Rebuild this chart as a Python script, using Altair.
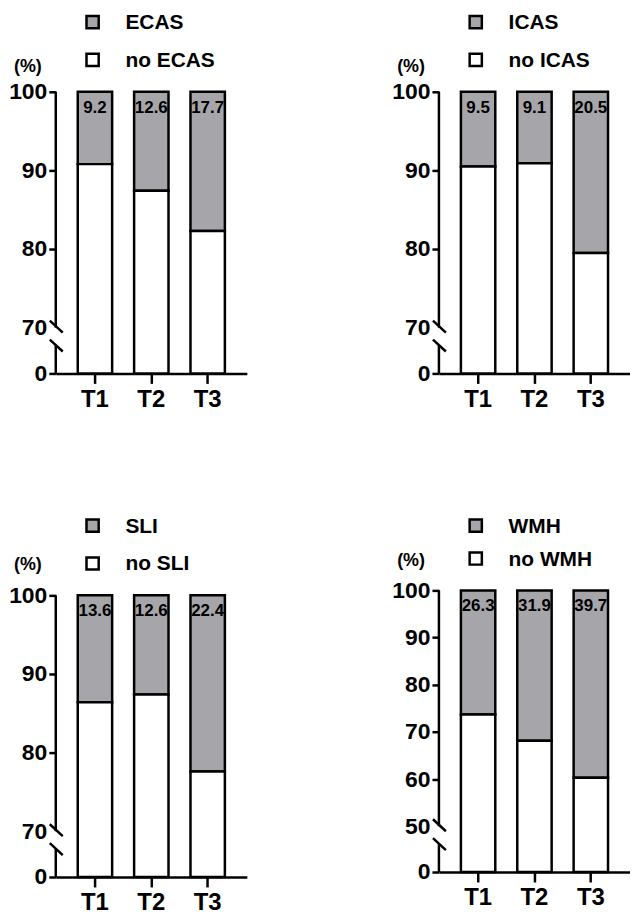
import altair as alt
import pandas as pd

# ---- data ----
periods = ["T1", "T2", "T3"]
names = ["ECAS", "ICAS", "SLI", "WMH"]
ecas = [9.2, 12.6, 17.7]
icas = [9.5, 9.1, 20.5]
sli = [13.6, 12.6, 22.4]
wmh = [26.3, 31.9, 39.7]
series = [ecas, icas, sli, wmh]
breaks = [70, 70, 70, 50]
upper_ticks = [[80, 90, 100], [80, 90, 100], [80, 90, 100], [60, 70, 80, 90, 100]]

# ---- style ----
FONT = "Liberation Sans"
GREY = "#a6a6aa"
W, H = 192, 283
LOW = 46
SW = 2.5
GAP = 18


def panel(name, pct, brk, ticks, leg_y, pct_y, shift):
    df = pd.DataFrame({
        "period": periods * 2,
        "group": [name] * 3 + ["no " + name] * 3,
        "value": list(pct) + [round(100 - p, 1) for p in pct],
        "order": [2] * 3 + [1] * 3,
    })
    h = H - shift
    yscale = alt.Scale(domain=[0, brk, 100], range=[h, h - LOW, -shift], nice=False, zero=False)
    xscale = alt.Scale(domain=periods, paddingInner=0.39, paddingOuter=0.39)
    one = pd.DataFrame({"k": [0]})

    yaxis = alt.Axis(
        values=[0, brk] + ticks, title=None, domain=False, grid=False,
        tickSize=7, tickWidth=SW, tickColor="black",
        tickOpacity={"condition": {"test": f"datum.value == {brk}", "value": 0}, "value": 1},
        labelFont=FONT, labelFontSize=23, labelFontWeight="bold", labelColor="black",
        labelPadding=2, labelOverlap=False, labelFlush=False,
    )
    xaxis = alt.Axis(
        title=None, labelAngle=0, domainColor="black", domainWidth=SW,
        tickColor="black", tickWidth=SW, tickSize=10,
        labelFont=FONT, labelFontSize=24, labelFontWeight="bold", labelColor="black",
        labelPadding=4,
    )

    bars = alt.Chart(df).mark_bar(stroke="black", strokeWidth=SW).encode(
        x=alt.X("period:N", scale=xscale, axis=xaxis),
        y=alt.Y("value:Q", stack="zero", scale=yscale, axis=yaxis),
        color=alt.Color("group:N",
                        scale=alt.Scale(domain=[name, "no " + name], range=[GREY, "white"]),
                        legend=None),
        order=alt.Order("order:Q"),
    )

    labels = alt.Chart(pd.DataFrame({"period": periods, "pct": pct})).mark_text(
        font=FONT, fontWeight="bold", fontSize=17, dy=16, baseline="middle", color="black"
    ).encode(
        x=alt.X("period:N", scale=xscale),
        y=alt.YDatum(100, scale=yscale),
        text=alt.Text("pct:Q", format=".1f"),
    )

    rule_kw = dict(color="black", strokeWidth=SW)
    upper = alt.Chart(one).mark_rule(**rule_kw).encode(
        x=alt.value(0), y=alt.YDatum(brk, scale=yscale), y2=alt.datum(100))
    lower = alt.Chart(one).mark_rule(y2Offset=GAP, **rule_kw).encode(
        x=alt.value(0), y=alt.YDatum(0, scale=yscale), y2=alt.datum(brk))
    s1 = alt.Chart(one).mark_rule(yOffset=-7, y2Offset=5, **rule_kw).encode(
        x=alt.value(-6), x2=alt.value(7), y=alt.YDatum(brk, scale=yscale), y2=alt.datum(brk))
    s2 = alt.Chart(one).mark_rule(yOffset=GAP - 6, y2Offset=GAP + 6, **rule_kw).encode(
        x=alt.value(-6), x2=alt.value(7), y=alt.YDatum(brk, scale=yscale), y2=alt.datum(brk))

    sq_kw = dict(shape="square", filled=True, stroke="black", strokeWidth=SW, size=150, opacity=1)
    sq1 = alt.Chart(one).mark_point(fill=GREY, **sq_kw).encode(
        x=alt.value(37), y=alt.value(leg_y[0]))
    sq2 = alt.Chart(one).mark_point(fill="white", **sq_kw).encode(
        x=alt.value(37), y=alt.value(leg_y[1]))
    txt_kw = dict(font=FONT, fontWeight="bold", fontSize=21, align="left", baseline="middle",
                  color="black")
    t1 = alt.Chart(one).mark_text(**txt_kw).encode(
        x=alt.value(70), y=alt.value(leg_y[0] + 1), text=alt.value(name))
    t2 = alt.Chart(one).mark_text(**txt_kw).encode(
        x=alt.value(70), y=alt.value(leg_y[1] + 1), text=alt.value("no " + name))
    unit = alt.Chart(one).mark_text(font=FONT, fontWeight="bold", fontSize=18, align="center",
                                    baseline="middle", color="black").encode(
        x=alt.value(-28), y=alt.value(pct_y), text=alt.value("(%)"))

    return alt.layer(bars, labels, upper, lower, s1, s2, sq1, sq2, t1, t2, unit).properties(
        width=W, height=h)


leg_ys = [(-70, -32), (-70, -32), (-70, -32), (-70, -37)]
pct_ys = [-25, -25, -30, -35]
shifts = [0, 0, 0, 5]
panels = [panel(n, s, b, t, ly, py, sh)
          for n, s, b, t, ly, py, sh in zip(names, series, breaks, upper_ticks, leg_ys, pct_ys, shifts)]

row1 = alt.hconcat(panels[0], panels[1], spacing=145).resolve_scale(color="independent")
row2 = alt.hconcat(panels[2], panels[3], spacing=145).resolve_scale(color="independent")
chart = alt.vconcat(row1, row2, spacing=103).resolve_scale(color="independent").configure_view(
    stroke=None).properties(padding=0, background="white")

chart.save("out.html", embed_options={"renderer": "svg", "actions": False})
